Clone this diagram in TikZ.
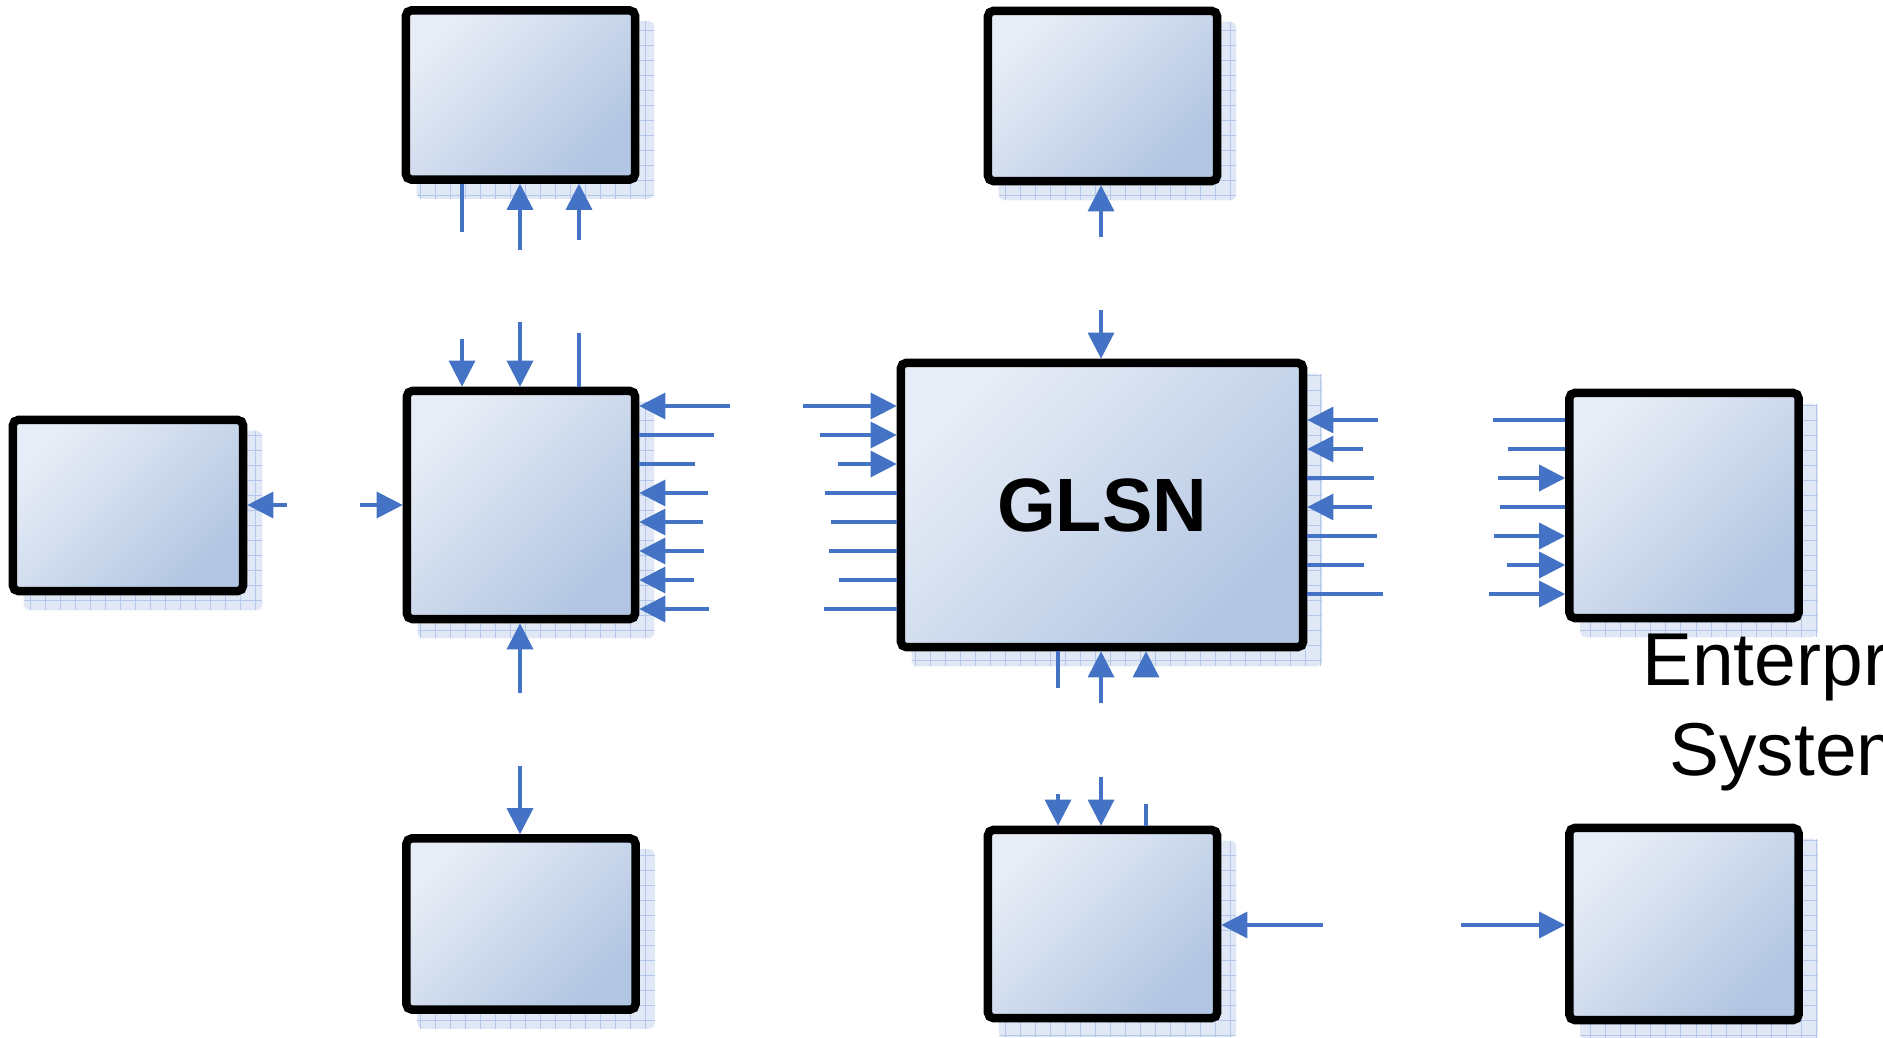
\documentclass[tikz,border=0pt]{standalone}
\usepackage{fontspec}
\setmainfont{Liberation Sans}
\usetikzlibrary{arrows.meta, calc}
\definecolor{blkLight}{RGB}{231,237,246}
\definecolor{blkDark}{RGB}{178,197,226}
\definecolor{flowBlue}{RGB}{68,114,196}
\definecolor{shadowFill}{RGB}{224,232,245}
\definecolor{shadowGrid}{RGB}{178,199,233}
\pgfdeclarelayer{background}
\pgfsetlayers{background,main}

\begin{document}
\begin{tikzpicture}[x=0.01cm, y=-0.01cm,
    blk/.style={draw=black, line width=2.4pt, rounded corners=1.5pt, top color=blkLight, bottom color=blkDark, shading angle=45, inner sep=0pt},
    arr/.style={-{Triangle[length=0.26cm, width=0.26cm]}, line width=0.9pt, flowBlue},
    stub/.style={line width=0.9pt, flowBlue},
    shadowbox/.style={fill=shadowFill, rounded corners=1.5pt},
    shadowlines/.style={draw=shadowGrid, line width=0.25pt, step=0.15cm}
  ]
    \useasboundingbox (0,0) rectangle (1883,1037);
    \clip (0,0) rectangle (1883,1037);

    % boxes
    \node[blk, minimum width=2.29cm, minimum height=1.69cm] (topL) at (520.5,95) {};
    \node[blk, minimum width=2.29cm, minimum height=1.70cm] (topR) at (1102.5,96) {};
    \node[blk, minimum width=2.30cm, minimum height=1.71cm] (sideL) at (128,505.5) {};
    \node[blk, minimum width=2.28cm, minimum height=2.28cm] (mid) at (521,505) {};
    \node[blk, minimum width=4.02cm, minimum height=2.84cm, font=\fontsize{21.5}{25}\selectfont\bfseries] (glsn) at (1102,505) {GLSN};
    \node[blk, minimum width=2.29cm, minimum height=2.25cm] (sideR) at (1684,505.5) {};
    \node[blk, minimum width=2.29cm, minimum height=1.71cm] (botL) at (521,924) {};
    \node[blk, minimum width=2.29cm, minimum height=1.88cm] (botM) at (1102.5,924) {};
    \node[blk, minimum width=2.29cm, minimum height=1.92cm] (botR) at (1684,924) {};

    \node[font=\fontsize{21.3}{25.6}\selectfont, align=center, inner sep=0pt] (ent) at (1813,711) {Enterprise\\Systems};

    % shadows
    \begin{pgfonlayer}{background}
      \foreach \n in {topL,topR,sideL,mid,glsn,sideR,botL,botM,botR} {
        \fill[shadowbox] ([shift={(15,15)}]\n.north west) rectangle ([shift={(15,15)}]\n.south east);
        \draw[shadowlines] ([shift={(15,15)}]\n.north west) grid ([shift={(15,15)}]\n.south east);
      }
    \end{pgfonlayer}

    % mid box, right side
    \foreach \yy/\xx/\kind [count=\i] in {406/730/arr, 435/714/stub, 464/695/stub, 493/708/arr, 522/703/arr, 551/704/arr, 580/694/arr, 609/709/arr} {
      \coordinate (me\i) at (\xx,\yy);
      \draw[\kind] (me\i) -- (mid.east |- me\i);
    }
    % glsn, left side
    \foreach \yy/\xx/\kind [count=\i] in {406/803/arr, 435/820/arr, 464/838/arr, 493/825/stub, 522/831/stub, 551/829/stub, 580/839/stub, 609/824/stub} {
      \coordinate (gw\i) at (\xx,\yy);
      \draw[\kind] (gw\i) -- (glsn.west |- gw\i);
    }
    % glsn, right side
    \foreach \yy/\xx/\kind [count=\i] in {420/1378/arr, 449/1363/arr, 478/1374/stub, 507/1372/arr, 536/1377/stub, 565/1364/stub, 594/1383/stub} {
      \coordinate (ge\i) at (\xx,\yy);
      \draw[\kind] (ge\i) -- (glsn.east |- ge\i);
    }
    % right box, left side
    \foreach \yy/\xx/\kind [count=\i] in {420/1493/stub, 449/1508/stub, 478/1498/arr, 507/1500/stub, 536/1494/arr, 565/1507/arr, 594/1489/arr} {
      \coordinate (rw\i) at (\xx,\yy);
      \draw[\kind] (rw\i) -- (sideR.west |- rw\i);
    }
    % top left box, bottom
    \foreach \xx/\yy/\kind [count=\i] in {462/232/stub, 520/250/arr, 579/240/arr} {
      \coordinate (ts\i) at (\xx,\yy);
      \draw[\kind] (ts\i) -- (topL.south -| ts\i);
    }
    % mid box, top
    \foreach \xx/\yy/\kind [count=\i] in {462/339/arr, 520/322/arr, 579/333/stub} {
      \coordinate (mn\i) at (\xx,\yy);
      \draw[\kind] (mn\i) -- (mid.north -| mn\i);
    }
    % glsn, bottom
    \foreach \xx/\yy/\kind [count=\i] in {1058/688/stub, 1101/703/arr, 1146/676/arr} {
      \coordinate (gs\i) at (\xx,\yy);
      \draw[\kind] (gs\i) -- (glsn.south -| gs\i);
    }
    % bottom middle box, top
    \foreach \xx/\yy/\kind [count=\i] in {1058/794/arr, 1101/777/arr, 1146/804/stub} {
      \coordinate (bn\i) at (\xx,\yy);
      \draw[\kind] (bn\i) -- (botM.north -| bn\i);
    }

    % single arrows
    \coordinate (c1) at (1101,237);
    \coordinate (c2) at (1101,310);
    \coordinate (c3) at (287,505);
    \coordinate (c4) at (360,505);
    \coordinate (c5) at (520,693);
    \coordinate (c6) at (520,766);
    \coordinate (c7) at (1323,925);
    \coordinate (c8) at (1461,925);
    \draw[arr] (c1) -- (topR.south -| c1);
    \draw[arr] (c2) -- (glsn.north -| c2);
    \draw[arr] (c3) -- (sideL.east |- c3);
    \draw[arr] (c4) -- (mid.west |- c4);
    \draw[arr] (c5) -- (mid.south -| c5);
    \draw[arr] (c6) -- (botL.north -| c6);
    \draw[arr] (c7) -- (botM.east |- c7);
    \draw[arr] (c8) -- (botR.west |- c8);
  \end{tikzpicture}
\end{document}
